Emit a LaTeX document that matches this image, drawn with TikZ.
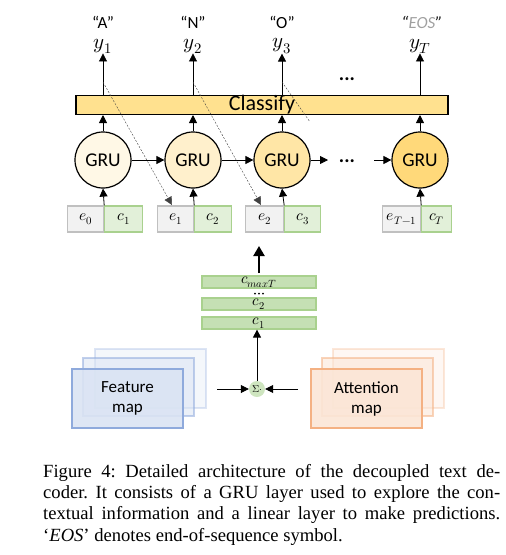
\documentclass[tikz,border=0pt]{standalone}
\usepackage{fontspec}
\usepackage{unicode-math}
\setmainfont{Liberation Serif}
\newfontfamily\calibri{Carlito}
\usetikzlibrary{arrows.meta}
\definecolor{gruA}{HTML}{FFF8E6}
\definecolor{gruB}{HTML}{FFF0CC}
\definecolor{gruC}{HTML}{FFE6A6}
\definecolor{gruD}{HTML}{FFD97A}
\definecolor{clsfill}{HTML}{FFE18F}
\definecolor{efill}{HTML}{F2F2F2}
\definecolor{edraw}{HTML}{C0C0C0}
\definecolor{cfill}{HTML}{E2F0D9}
\definecolor{cdraw}{HTML}{A9D18E}
\definecolor{cbar}{HTML}{C5E0B4}
\definecolor{fmfill}{HTML}{DAE3F3}
\definecolor{fmdraw}{HTML}{8FAADC}
\definecolor{amfill}{HTML}{FBE5D6}
\definecolor{amdraw}{HTML}{F4B183}
\definecolor{eosgray}{HTML}{A0A0A0}
\begin{document}
\begin{tikzpicture}[x=1pt,y=-1pt,
  arr/.style={-{Triangle[width=8pt,length=8pt]}, line width=0.8pt},
  dasharr/.style={-{Triangle[width=8pt,length=8pt]}, line width=0.4pt, dash pattern=on 2pt off 1.5pt, draw=black!75},
  gru/.style={circle, draw, line width=1.2pt, minimum size=56pt, inner sep=0pt, font=\calibri\fontsize{19.5}{21}\selectfont},
  ebox/.style={rectangle, draw=edraw, fill=efill, line width=1.2pt, minimum height=26pt, inner sep=0pt, anchor=west, font=\fontsize{15.5}{17}\selectfont},
  cbox/.style={rectangle, draw=cdraw, fill=cfill, line width=1.2pt, minimum height=26pt, inner sep=0pt, anchor=west, font=\fontsize{15.5}{17}\selectfont},
  cbarbox/.style={rectangle, draw=cdraw, fill=cbar, line width=1.2pt, minimum width=114pt, minimum height=12pt, inner sep=0pt, font=\fontsize{15}{15}\selectfont},
  ylab/.style={inner sep=0pt, font=\fontsize{21}{21}\selectfont},
  qlab/.style={inner sep=0pt, font=\calibri\fontsize{17}{18}\selectfont},
  dotlab/.style={inner sep=0pt, font=\calibri\bfseries\fontsize{20}{20}\selectfont},
  maplab/.style={align=center, font=\calibri\fontsize{17}{20}\selectfont}
]
\useasboundingbox (0,0) rectangle (506,555);

% output labels
\node[qlab] (q1) at (103,22) {“A”};
\node[qlab] (q2) at (193,22) {“N”};
\node[qlab] (q3) at (282,22) {“O”};
\node[qlab] (q4) at (422,22) {\itshape“\textcolor{eosgray}{EOS}”};
\node[ylab] (y1) at (103,46) {$y_1$};
\node[ylab] (y2) at (193,46) {$y_2$};
\node[ylab] (y3) at (282,46) {$y_3$};
\node[ylab] (y4) at (420,46) {$y_T$};

% classify bar
\node[rectangle, draw, fill=clsfill, line width=1.2pt, minimum width=372pt, minimum height=16pt, inner sep=0pt,
      font=\calibri\fontsize{22}{22}\selectfont] (cls) at (262,105) {Classify};

\node[dotlab] (dtop) at (347,79) {...};

% GRU cells
\node[gru, fill=gruA] (g1) at (103,160) {GRU};
\node[gru, fill=gruB] (g2) at (193,160) {GRU};
\node[gru, fill=gruC] (g3) at (282,160) {GRU};
\node[gru, fill=gruD] (g4) at (420,160) {GRU};
\node[dotlab] (dmid) at (347,161) {...};
\coordinate (h3) at (328,160);
\coordinate (h4) at (374,160);

% input boxes
\node[ebox, minimum width=36pt] (e1) at (67,219) {$e_0$};
\node[cbox, minimum width=38pt] (c1) at (e1.east) {$c_1$};
\node[ebox, minimum width=36pt] (e2) at (157,219) {$e_1$};
\node[cbox, minimum width=37pt] (c2) at (e2.east) {$c_2$};
\node[ebox, minimum width=38pt] (e3) at (245,219) {$e_2$};
\node[cbox, minimum width=36pt] (c3) at (e3.east) {$c_3$};
\node[ebox, minimum width=38pt] (e4) at (382,219) {$e_{T-1}$};
\node[cbox, minimum width=30pt] (c4) at (e4.east) {$c_T$};

% arrows input -> GRU -> classify -> outputs
\foreach \i in {1,2,3,4} {
  \draw[arr] (e\i.north east) -- (g\i.south);
  \draw[arr] (g\i.north) -- (g\i |- cls.south);
  \draw[arr] (g\i |- cls.north) -- (y\i.south);
}
\draw[arr] (g1.east) -- (g2.west);
\draw[arr] (g2.east) -- (g3.west);
\draw[arr] (g3.east) -- (h3);
\draw[arr] (h4) -- (g4.west);

% dashed feedback
\coordinate (s1) at (103,82);
\coordinate (s2) at (193,82);
\coordinate (s3) at (282,82);
\coordinate (t1) at (172,205);
\coordinate (t2) at (261,205);
\coordinate (t3) at (310,122);
\draw[dasharr] (s1) -- (t1);
\draw[dasharr] (s2) -- (t2);
\draw[line width=0.4pt, dash pattern=on 2pt off 1.5pt, draw=black!75] (s3) -- (t3);

% context bars
\node[cbarbox] (cmax) at (259,282) {$c_{maxT}$};
\foreach \dx in {-4,0,4} \fill (259+\dx,293.5) circle (1pt);
\node[cbarbox] (cb2) at (259,304) {$c_2$};
\node[cbarbox] (cb1) at (259,323) {$c_1$};
\coordinate (bigtail) at (259,273);
\coordinate (bighead) at (259,246);
\draw[-{Triangle[width=11pt,length=10pt]}, line width=2.2pt] (bigtail) -- (bighead);

% feature maps
\draw[draw=fmdraw, fill=fmfill, line width=1.2pt, opacity=0.3] (95,349) rectangle (206,408);
\draw[draw=fmdraw, fill=fmfill, line width=1.2pt, opacity=0.55] (83,358) rectangle (194,416);
\node[draw=fmdraw, fill=fmfill, line width=1.5pt, minimum width=111pt, minimum height=59pt, inner sep=0pt, fill opacity=0.9, text opacity=1, maplab] (fm) at (127.5,398.5) {Feature\\map};

% attention maps
\draw[draw=amdraw, fill=amfill, line width=1.2pt, opacity=0.3] (333,349) rectangle (444,408);
\draw[draw=amdraw, fill=amfill, line width=1.2pt, opacity=0.55] (322,358) rectangle (433,416);
\node[draw=amdraw, fill=amfill, line width=1.5pt, minimum width=111pt, minimum height=59pt, inner sep=0pt, fill opacity=0.9, text opacity=1, maplab] (am) at (366.5,398.5) {Attention\\map};

% weighted sum
\node[circle, fill=cbar!85, minimum size=16pt, inner sep=0pt, font=\fontsize{10}{10}\selectfont] (sig) at (257,389) {$\Sigma\cdot$};
\coordinate (fin) at (217,389);
\coordinate (ain) at (298,389);
\draw[arr] (fin) -- (sig.west);
\draw[arr] (ain) -- (sig.east);
\draw[arr] (sig.north) -- (sig.north |- cb1.south);

% caption
\node[anchor=north west, inner sep=0pt, text width=457pt, align=justify, font=\frenchspacing\fontsize{18.6}{21.3}\selectfont] (cap) at (43,464) {%
Figure 4: Detailed architecture of the decoupled text de-\linebreak
coder. It consists of a GRU layer used to explore the con-\linebreak
textual information and a linear layer to make predictions.\linebreak
`\textit{EOS}' denotes end-of-sequence symbol.};
\end{tikzpicture}
\end{document}
